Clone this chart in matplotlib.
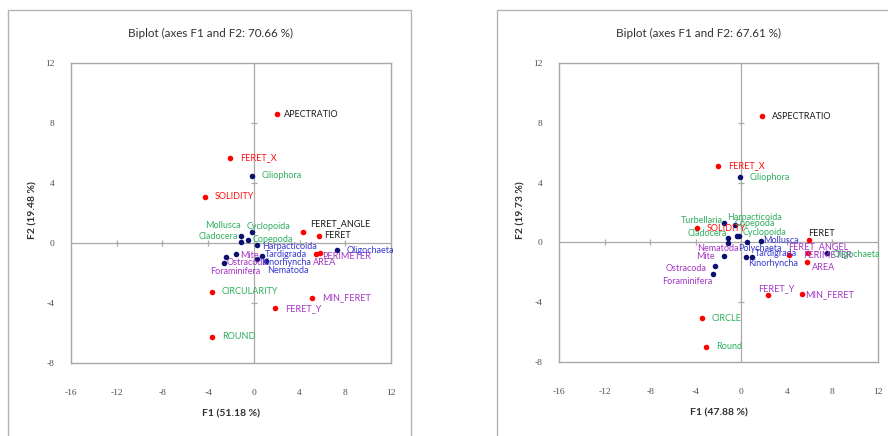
import matplotlib
matplotlib.use("Agg")
import matplotlib.pyplot as plt
from matplotlib.patches import Rectangle

plt.rcParams["axes.unicode_minus"] = False

# ---- data: left biplot (F1 51.18 %, F2 19.48 %) ----
left_names = ["APECTRATIO", "FERET_X", "SOLIDITY", "FERET_ANGLE", "FERET", "PERIMETER", "AREA",
              "CIRCULARITY", "MIN_FERET", "FERET_Y", "ROUND",
              "Ciliophora", "Mollusca", "Cyclopoida", "Cladocera", "Copepoda", "Harpacticoida",
              "Oligochaeta", "Mite", "Ostracoda", "Foraminifera", "Tardigrada", "Kinorhyncha", "Nematoda"]
left_f1 = [2.01, -2.10, -4.29, 4.29, 5.66, 5.77, 5.42,
           -3.67, 5.07, 1.84, -3.67,
           -0.20, -1.16, -0.20, -1.11, -0.50, 0.24,
           7.24, -1.57, -2.45, -2.65, 0.70, 0.29, 1.05]
left_f2 = [8.60, 5.67, 3.07, 0.75, 0.49, -0.65, -0.75,
           -3.25, -3.65, -4.35, -6.25,
           4.47, 0.49, 0.71, 0.09, 0.20, -0.13,
           -0.49, -0.75, -0.91, -1.35, -0.87, -1.09, -1.22]
left_nvars = 11  # first entries are variables (red), rest are observations (navy)

# ---- data: right biplot (F1 47.88 %, F2 19.73 %) ----
right_names = ["ASPECTRATIO", "FERET_X", "SOLIDITY", "FERET", "FERET_ANGEL", "PERIMETER", "AREA",
               "FERET_Y", "MIN_FERET", "CIRCLE", "Round",
               "Ciliophora", "Turbellaria", "Harpacticoida", "Copepoda", "Cyclopoida", "Cladocera",
               "Nematoda", "Polychaeta", "Mollusca", "Mite", "Kinorhyncha", "Tardigrada",
               "Ostracoda", "Foraminifera", "Oligochaeta"]
right_f1 = [1.84, -2.02, -3.89, 5.97, 4.19, 5.88, 5.74,
            2.32, 5.36, -3.48, -3.13,
            -0.14, -1.52, -0.55, -0.40, -0.20, -1.14,
            -1.14, 0.50, 1.73, -1.52, 0.39, 0.97,
            -2.31, -2.46, 7.50]
right_f2 = [8.45, 5.13, 0.94, 0.14, -0.84, -0.73, -1.29,
            -3.52, -3.45, -5.08, -6.98,
            4.37, 1.28, 1.16, 0.45, 0.43, 0.27,
            -0.06, 0.01, 0.11, -0.91, -0.96, -0.96,
            -1.58, -2.11, -0.73]
right_nvars = 11

x_ticks = [-16, -12, -8, -4, 0, 4, 8, 12]
y_ticks = [-8, -4, 0, 4, 8, 12]

# label colours
GREEN, BLUE, PURPLE, RED, BLACK = "#2fae5f", "#3a3ad0", "#a436c4", "#ff1010", "#1a1a1a"
left_colors = {
    "APECTRATIO": BLACK, "FERET_X": RED, "SOLIDITY": RED, "FERET_ANGLE": BLACK, "FERET": BLACK,
    "PERIMETER": PURPLE, "AREA": PURPLE, "CIRCULARITY": GREEN, "MIN_FERET": PURPLE,
    "FERET_Y": PURPLE, "ROUND": GREEN, "Ciliophora": GREEN, "Mollusca": GREEN,
    "Cyclopoida": GREEN, "Cladocera": GREEN, "Copepoda": GREEN, "Harpacticoida": BLUE,
    "Oligochaeta": BLUE, "Mite": PURPLE, "Ostracoda": PURPLE, "Foraminifera": PURPLE,
    "Tardigrada": BLUE, "Kinorhyncha": BLUE, "Nematoda": BLUE,
}
right_colors = {
    "ASPECTRATIO": BLACK, "FERET_X": RED, "SOLIDITY": RED, "FERET": BLACK, "FERET_ANGEL": PURPLE,
    "PERIMETER": PURPLE, "AREA": PURPLE, "FERET_Y": PURPLE, "MIN_FERET": PURPLE,
    "CIRCLE": GREEN, "Round": GREEN, "Ciliophora": GREEN, "Turbellaria": GREEN,
    "Harpacticoida": GREEN, "Copepoda": GREEN, "Cyclopoida": GREEN, "Cladocera": GREEN,
    "Nematoda": PURPLE, "Polychaeta": BLUE, "Mollusca": BLUE, "Mite": PURPLE,
    "Kinorhyncha": BLUE, "Tardigrada": BLUE, "Ostracoda": PURPLE, "Foraminifera": PURPLE,
    "Oligochaeta": GREEN,
}

# label placement (pixel offsets from the point, alignment)
default_off = (10, 0, "left")
left_offsets = {
    "APECTRATIO": (7, 0, "left"), "Mollusca": (0, 10, "right"), "Cyclopoida": (-5, 6, "left"),
    "Cladocera": (-3, 5, "right"), "Copepoda": (4, 1, "left"), "Harpacticoida": (6, -2, "left"),
    "Tardigrada": (3, 2, "left"), "Kinorhyncha": (4, -3, "left"), "Nematoda": (1, -9, "left"),
    "Mite": (4, -1, "left"), "Ostracoda": (1, -6, "left"), "Foraminifera": (-13, -8, "left"),
    "PERIMETER": (2, -4, "left"), "AREA": (-3, -8, "left"), "FERET_ANGLE": (7, 8, "left"),
    "FERET": (6, 0, "left"),
}
right_offsets = {
    "Turbellaria": (-1, 3, "right"), "Harpacticoida": (-8, 8, "left"), "Copepoda": (-2, 12, "left"),
    "Cyclopoida": (4, 3, "left"), "Cladocera": (-1, 5, "right"), "Nematoda": (10, -5, "right"),
    "Polychaeta": (-9, -6, "left"), "Mollusca": (2, 0, "left"), "Mite": (-9, 0, "right"),
    "Kinorhyncha": (2, -7, "left"), "Tardigrada": (3, 3, "left"), "Ostracoda": (-8, -2, "right"),
    "Foraminifera": (-1, -8, "right"), "Oligochaeta": (6, -1, "left"), "FERET": (-1, 7, "left"),
    "FERET_ANGEL": (-1, 8, "left"), "PERIMETER": (-5, -2, "left"), "AREA": (5, -6, "left"),
    "FERET_Y": (-10, 6, "left"), "MIN_FERET": (3, -1, "left"),
}

W, H = 888, 436
fig = plt.figure(figsize=(W / 100, H / 100), dpi=100)
fig.patch.set_facecolor("white")

# outer chart frames
fig.add_artist(Rectangle((8 / W, -0.1), 403 / W, 1.1 - 10 / H, transform=fig.transFigure,
                         fill=False, edgecolor="#b4b4b4", lw=1.0))
fig.add_artist(Rectangle((497 / W, -0.1), 0.5, 1.1 - 10 / H, transform=fig.transFigure,
                         fill=False, edgecolor="#b4b4b4", lw=1.0))

FRAME = "#a8a8a8"
label_font = ["Lato", "DejaVu Sans"]


def biplot(rect, names, f1, f2, nvars, colors, offsets, title, xlab, ylab, title_x, ylab_x):
    ax = fig.add_axes(rect)
    ax.set_xlim(x_ticks[0], x_ticks[-1])
    ax.set_ylim(y_ticks[0], y_ticks[-1])
    ax.set_xticks(x_ticks)
    ax.set_yticks(y_ticks)
    ax.tick_params(length=0, labelsize=6.8, colors="#505050")
    ax.tick_params(axis="x", pad=19)
    ax.tick_params(axis="y", pad=12)
    for lab in ax.get_xticklabels() + ax.get_yticklabels():
        lab.set_family("Liberation Serif")
    for sp in ax.spines.values():
        sp.set_color(FRAME)
        sp.set_linewidth(1.0)

    # zero lines with their small ticks
    ax.axhline(0, color=FRAME, lw=0.9, zorder=1)
    ax.axvline(0, color=FRAME, lw=0.9, zorder=1)
    inner_x = [t for t in x_ticks[1:-1] if t != 0]
    inner_y = [t for t in y_ticks[1:-1] if t != 0]
    ax.plot(inner_x, [0] * len(inner_x), ls="none", marker="|", ms=5, mec=FRAME, mew=0.9, zorder=1)
    ax.plot([0] * len(inner_y), inner_y, ls="none", marker="_", ms=5, mec=FRAME, mew=0.9, zorder=1)

    ax.scatter(f1[:nvars], f2[:nvars], s=16, color="#ff0000", zorder=3, linewidths=0)
    ax.scatter(f1[nvars:], f2[nvars:], s=16, color="#0b1070", zorder=3, linewidths=0)

    for name, x, y in zip(names, f1, f2):
        dx, dy, ha = offsets.get(name, default_off)
        ax.annotate(name, (x, y), xytext=(dx, dy), textcoords="offset pixels",
                    ha=ha, va="center", fontsize=6.5, color=colors[name],
                    family=label_font, annotation_clip=False, zorder=4)

    fig.text(title_x / W, 1 - 33 / H, title, ha="center", va="center",
             fontsize=8.4, color="#303030", family=label_font)
    ax.set_xlabel(xlab, fontsize=7.5, fontweight="bold", color="#303030", family=label_font, labelpad=9)
    fig.text(ylab_x / W, 1 - 210 / H, ylab, rotation=90, ha="center", va="center",
             fontsize=7.5, fontweight="bold", color="#303030", family=label_font)
    return ax


biplot([71 / W, 1 - 363 / H, 320 / W, 300 / H], left_names, left_f1, left_f2, left_nvars,
       left_colors, left_offsets, "Biplot (axes F1 and F2: 70.66 %)", "F1 (51.18 %)",
       "F2 (19.48 %)", 210, 33)
biplot([559 / W, 1 - 362 / H, 319 / W, 299 / H], right_names, right_f1, right_f2, right_nvars,
       right_colors, right_offsets, "Biplot (axes F1 and F2: 67.61 %)", "F1 (47.88 %)",
       "F2 (19.73 %)", 698, 521)

fig.savefig("out.png", dpi=100, facecolor="white")
